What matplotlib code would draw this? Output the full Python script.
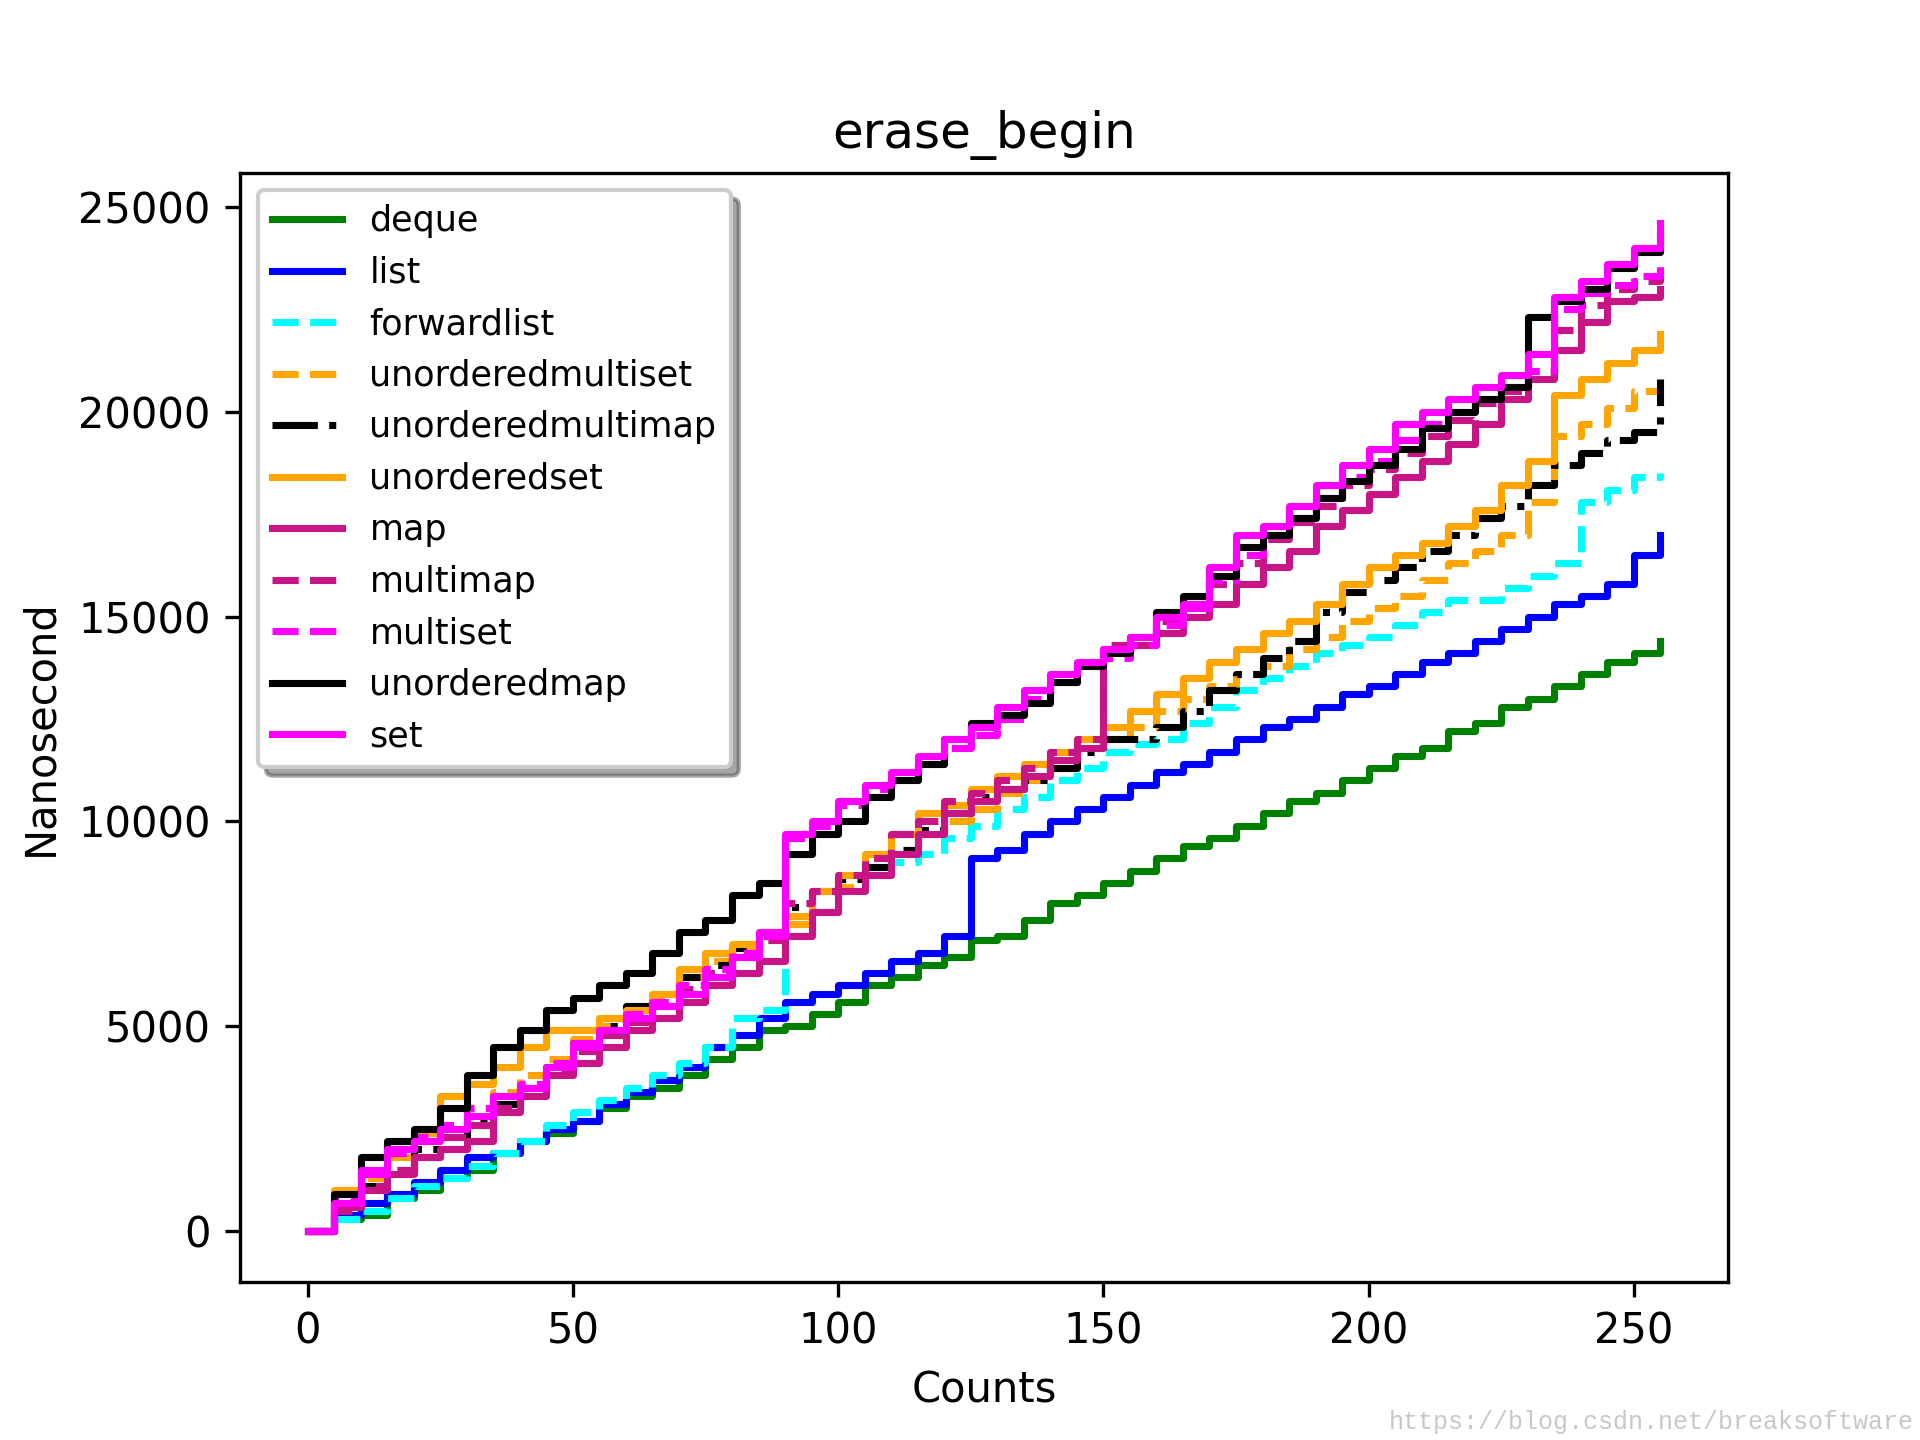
import numpy as np
import matplotlib
matplotlib.use("Agg")
import matplotlib.pyplot as plt

# sample counts (values every 5 counts, drawn as steps)
counts = list(range(0, 256, 5))

deque = [0, 300, 400, 800, 1000, 1300, 1500, 1900, 2200, 2400, 2700, 3000, 3300,
         3500, 3800, 4200, 4500, 4900, 5000, 5300, 5600, 6000, 6200, 6500, 6700,
         7100, 7200, 7600, 8000, 8200, 8500, 8800, 9100, 9400, 9600, 9900, 10200,
         10500, 10700, 11000, 11300, 11600, 11800, 12200, 12400, 12800, 13000,
         13300, 13600, 13900, 14100, 14400]
list_ = [0, 400, 700, 900, 1200, 1500, 1800, 1900, 2200, 2500, 2700, 3100, 3400,
         3700, 4000, 4500, 4800, 5200, 5600, 5800, 6000, 6300, 6600, 6800, 7200,
         9100, 9300, 9700, 10000, 10300, 10600, 10900, 11200, 11400, 11700, 12000,
         12300, 12500, 12800, 13100, 13300, 13600, 13900, 14100, 14400, 14700,
         15000, 15300, 15500, 15800, 16500, 17000]
forwardlist = [0, 300, 500, 800, 1100, 1300, 1600, 1900, 2200, 2600, 2900, 3200,
               3500, 3800, 4100, 4500, 5200, 5400, 7500, 7800, 8300, 8700, 9000,
               9200, 9600, 9900, 10300, 10600, 11000, 11300, 11700, 11900, 12000,
               12400, 12800, 13200, 13500, 13800, 14100, 14300, 14500, 14800, 15100,
               15400, 15400, 15700, 16000, 16300, 17800, 18100, 18400, 18500]
unorderedmultiset = [0, 700, 1300, 1800, 2200, 2600, 3000, 3400, 3800, 4200, 4700,
                     5000, 5300, 5700, 6200, 6600, 6900, 7300, 7500, 7800, 8400,
                     8900, 9300, 9700, 10000, 10300, 10700, 11000, 11500, 11800,
                     12000, 12300, 12700, 13000, 13300, 13600, 13800, 14200, 14500,
                     14900, 15200, 15500, 15900, 16300, 16600, 17000, 17800, 19400,
                     19700, 20100, 20500, 20500]
unorderedmultimap = [0, 600, 1100, 1500, 2000, 2300, 2700, 3100, 3500, 4000, 4600,
                     5000, 5500, 5800, 6200, 6500, 6900, 7200, 7900, 8300, 8600,
                     8900, 9300, 9800, 10200, 10600, 10800, 11000, 11300, 11700,
                     12000, 12000, 12300, 12700, 13200, 13600, 14000, 14400, 15100,
                     15600, 15900, 16200, 16600, 17000, 17400, 17700, 18200, 18700,
                     19000, 19300, 19500, 20800]
unorderedset = [0, 1000, 1500, 2000, 2400, 3300, 3600, 4000, 4500, 4900, 4900, 5200,
                5400, 5800, 6400, 6800, 7000, 7300, 7700, 8300, 8700, 9200, 9700,
                10200, 10400, 10800, 11100, 11400, 11700, 12000, 12300, 12700, 13100,
                13500, 13900, 14200, 14600, 14900, 15300, 15800, 16200, 16500, 16800,
                17200, 17600, 18200, 18800, 20400, 20800, 21200, 21500, 21900]
map_ = [0, 600, 1000, 1400, 1800, 2000, 2200, 2900, 3300, 3800, 4100, 4500, 4900,
        5200, 5600, 6000, 6300, 6600, 7200, 7800, 8300, 8700, 9200, 9700, 10200,
        10500, 10800, 11100, 11500, 11800, 14200, 14300, 14600, 15000, 15300, 15800,
        16200, 16600, 17200, 17600, 18000, 18400, 18800, 19200, 19700, 20300, 20800,
        21500, 22200, 22700, 22800, 23000]
multimap = [0, 500, 1100, 1500, 1800, 2300, 2600, 3000, 3500, 3900, 4400, 4800, 5100,
            5500, 5900, 6300, 6700, 7100, 8000, 8300, 8700, 9100, 9700, 10000, 10500,
            10700, 11000, 11300, 11700, 12000, 14300, 14500, 14900, 15300, 15800,
            16300, 16900, 17300, 17700, 18200, 18600, 19000, 19400, 19800, 20200,
            20500, 21000, 22000, 22600, 23000, 23200, 23400]
multiset = [0, 800, 1400, 1900, 2300, 2600, 3000, 3300, 3600, 4100, 4600, 4900, 5300,
            5600, 6000, 6400, 6800, 7200, 9600, 9900, 10400, 10800, 11000, 11400,
            11800, 12100, 12500, 13000, 13400, 13800, 14000, 14300, 14800, 15200,
            15900, 16500, 17000, 17400, 17900, 18400, 18800, 19300, 19700, 20000,
            20300, 20600, 21000, 22500, 22900, 23100, 23300, 23600]
unorderedmap = [0, 900, 1800, 2200, 2500, 3000, 3800, 4500, 4900, 5400, 5700, 6000,
                6300, 6800, 7300, 7600, 8200, 8500, 9200, 9700, 10000, 10600, 11000,
                11400, 12000, 12400, 12600, 12900, 13400, 13800, 14100, 14500, 15100,
                15500, 16000, 16700, 17000, 17400, 17900, 18300, 18700, 19100, 19600,
                20000, 20300, 20600, 22300, 22700, 23000, 23500, 23900, 24300]
set_ = [0, 700, 1500, 2000, 2200, 2500, 2800, 3300, 3500, 4000, 4500, 4900, 5200,
        5500, 5800, 6200, 6700, 7300, 9700, 10000, 10500, 10900, 11200, 11600, 12000,
        12300, 12800, 13200, 13600, 13900, 14200, 14500, 15000, 15300, 16200, 17000,
        17200, 17700, 18200, 18700, 19100, 19700, 20000, 20300, 20600, 20900, 21400,
        22800, 23200, 23600, 24000, 24600]

names = ["deque", "list", "forwardlist", "unorderedmultiset", "unorderedmultimap",
         "unorderedset", "map", "multimap", "multiset", "unorderedmap", "set"]
series = [deque, list_, forwardlist, unorderedmultiset, unorderedmultimap,
          unorderedset, map_, multimap, multiset, unorderedmap, set_]
colors = ["green", "blue", "cyan", "orange", "black", "orange",
          "mediumvioletred", "mediumvioletred", "magenta", "black", "magenta"]
styles = ["-", "-", "--", "--", "-.", "-", "-", "--", "--", "-", "-"]

fig = plt.figure(figsize=(6.4, 4.8), dpi=300)
ax = fig.add_subplot(111)
for name, ys, c, ls in zip(names, series, colors, styles):
    ax.plot(counts, ys, color=c, linestyle=ls, label=name, lw=1.7,
            drawstyle="steps-post")

ax.set_title("erase_begin")
ax.set_xlabel("Counts")
ax.set_ylabel("Nanosecond")
ax.legend(loc="upper left", shadow=True, fancybox=True, fontsize=8.4)

fig.text(0.997, 0.004, "https://blog.csdn.net/breaksoftware", ha="right", va="bottom",
         fontsize=6, color="#c8c8c8", family="Liberation Mono")

fig.savefig("out.png", dpi=300)
